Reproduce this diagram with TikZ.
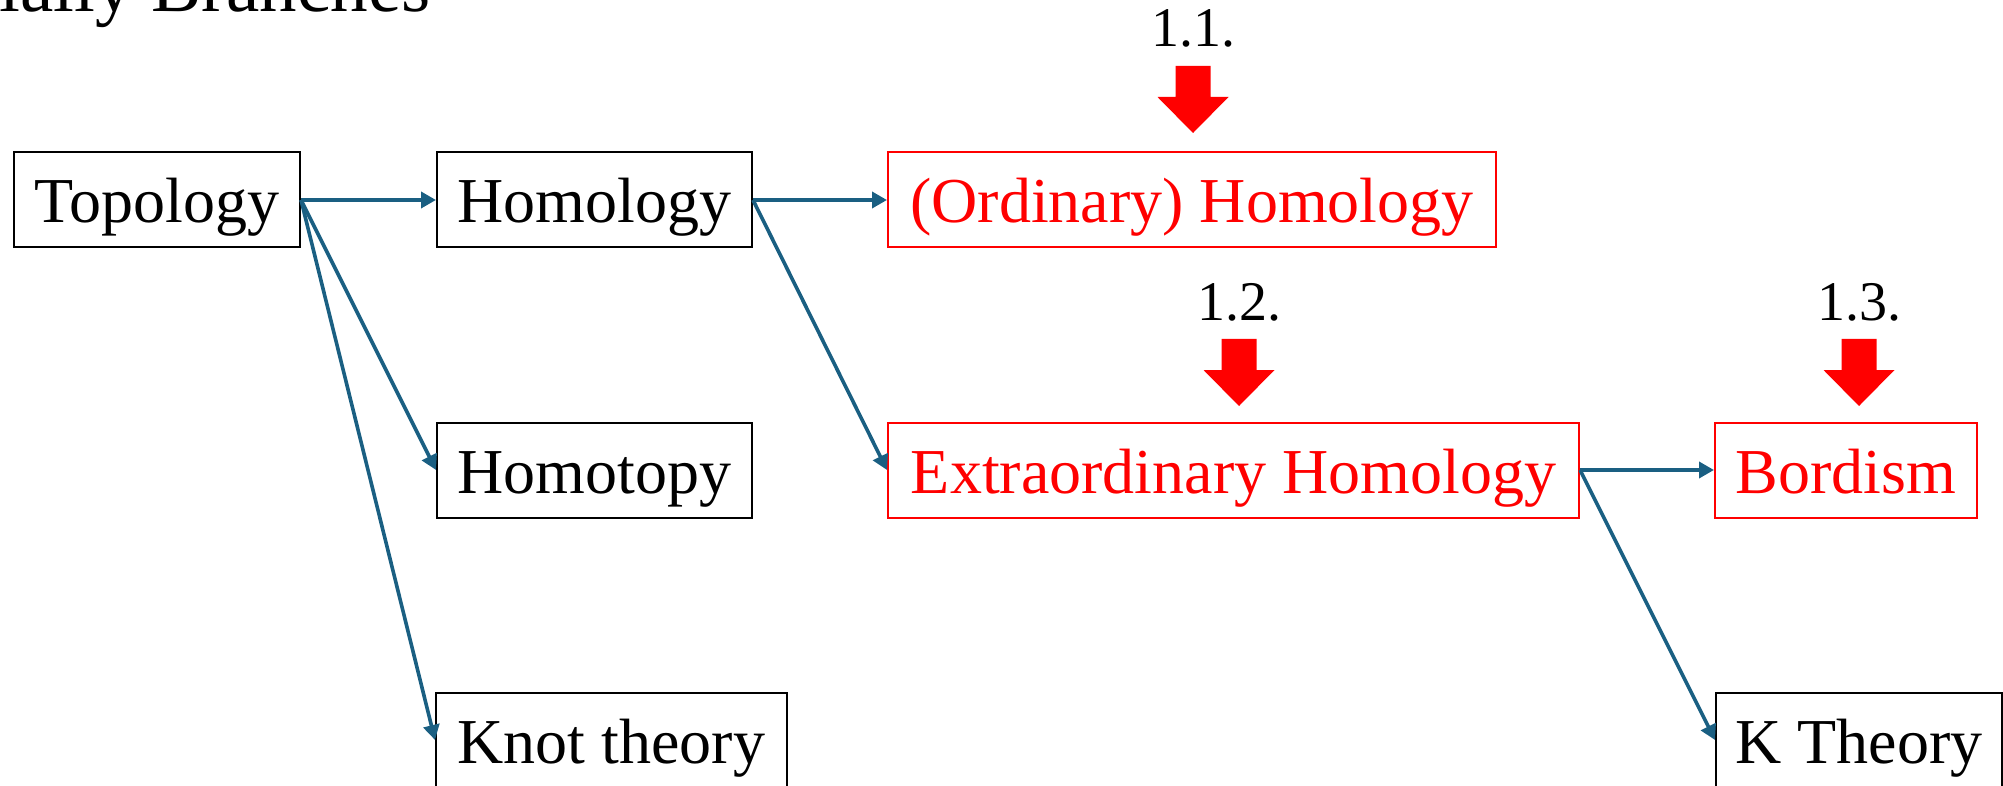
\documentclass[tikz,border=0pt]{standalone}
\usepackage{fontspec}
\setmainfont{Liberation Serif}
\usetikzlibrary{arrows.meta}
\definecolor{linkblue}{RGB}{26,95,130}
\begin{document}
\begin{tikzpicture}[x=0.5pt,y=-0.5pt,
  box/.style={draw=black, line width=1pt, inner sep=0pt, minimum height=47.5pt,
    text height=23pt, text depth=0pt, font=\fontsize{32}{38}\selectfont},
  redbox/.style={box, draw=red, text=red},
  link/.style={draw=linkblue, line width=1.8pt, -{Triangle[length=7.5pt,width=8pt]}},
  lbl/.style={anchor=base, font=\fontsize{28}{33}\selectfont, inner sep=0pt},
  redarr/.pic={\fill[red] (-17.5,0) -- (17.5,0) -- (17.5,31) -- (35.5,31) -- (0,67) -- (-35.5,31) -- (-17.5,31) -- cycle;}]
\useasboundingbox (0,0) rectangle (2003,786);
\clip (0,0) rectangle (2003,786);
% title (cut off at top)
\node[anchor=base west, inner sep=0pt, font=\fontsize{37.5}{44}\selectfont] (title) at (-1,12) {ially Branches};
% nodes
\node[box, minimum width=143pt] (topo) at (157,200) {Topology};
\node[box, minimum width=157.5pt] (homol) at (594.5,200) {Homology};
\node[redbox, minimum width=304pt] (ord) at (1192,200) {(Ordinary) Homology};
\node[box, minimum width=157.5pt] (homot) at (594.5,470) {Homotopy};
\node[redbox, minimum width=345.5pt] (extra) at (1233.5,470) {Extraordinary Homology};
\node[redbox, minimum width=131pt] (bord) at (1846,470) {Bordism};
\node[box, minimum width=175.5pt] (knot) at (611.5,740) {Knot theory};
\node[box, minimum width=143pt] (kth) at (1859,740) {K Theory};
% connectors
\draw[link] (topo.east) -- (homol.west);
\draw[link] (topo.east) -- (homot.west);
\draw[link] (topo.east) -- (knot.west);
\draw[link] (homol.east) -- (ord.west);
\draw[link] (homol.east) -- (extra.west);
\draw[link] (extra.east) -- (bord.west);
\draw[link] (extra.east) -- (kth.west);
% section markers
\node[lbl] (l11) at (1193,47) {1.1.};
\pic at (1193,66) {redarr};
\node[lbl] (l12) at (1239,321) {1.2.};
\pic at (1239,339) {redarr};
\node[lbl] (l13) at (1859,321) {1.3.};
\pic at (1859,339) {redarr};
\end{tikzpicture}
\end{document}
